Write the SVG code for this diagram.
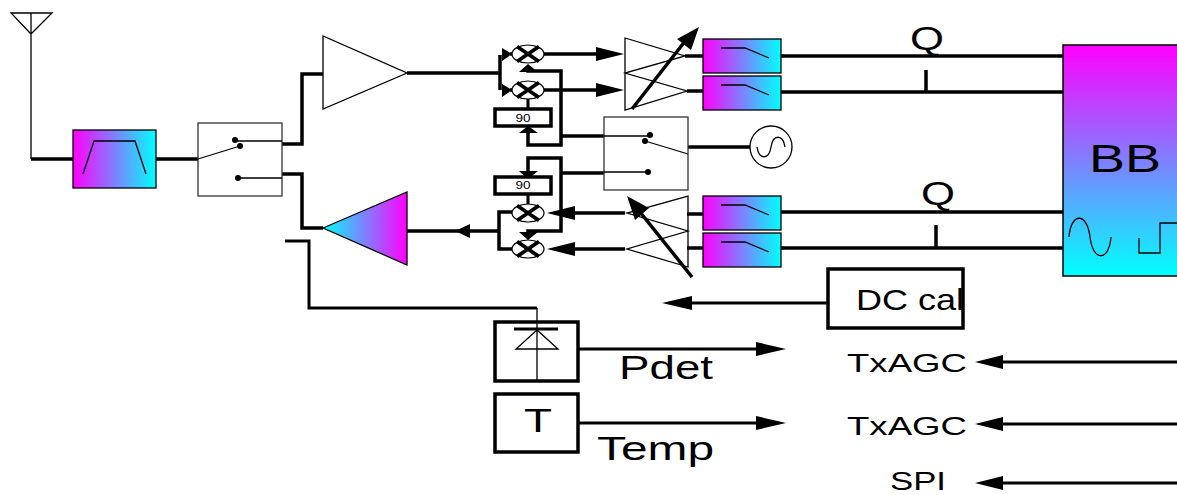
<svg xmlns="http://www.w3.org/2000/svg" xmlns:xlink="http://www.w3.org/1999/xlink" width="1177" height="495" viewBox="0 0 1177 495">
<style>
text{font-family:"Liberation Sans",Arial,sans-serif;fill:#000}
.t{fill:none;stroke:#000;stroke-width:1.3}
.b{fill:none;stroke:#000;stroke-width:3.5;stroke-linejoin:miter}
.m{fill:none;stroke:#000;stroke-width:3}
.box{fill:#fff;stroke:#000;stroke-width:3.5}
.sw{fill:#fff;stroke:#333;stroke-width:1.3}
.g{fill:url(#mc);stroke:#000;stroke-width:1.3}
.h{fill:#000;stroke:none}
.mix{fill:#fff;stroke:#000;stroke-width:1.2}
</style>
<defs>
<linearGradient id="mc"><stop offset="0" stop-color="#ff00ff"/><stop offset="1" stop-color="#00ffff"/></linearGradient>
<linearGradient id="cm"><stop offset="0" stop-color="#00ffff"/><stop offset="1" stop-color="#ff00ff"/></linearGradient>
<linearGradient id="v" x1="0" y1="0" x2="0" y2="1"><stop offset="0" stop-color="#ff00ff"/><stop offset="1" stop-color="#00ffff"/></linearGradient>
<g id="mixer"><ellipse class="mix" rx="16" ry="9"/><path d="M-11-7.500 11 7.500M-11 7.500 11-7.500" stroke="#000" stroke-width="3.8" fill="none"/></g>
<g id="lpf"><rect class="g" width="78" height="34"/><path class="t" d="M18 9H42L66 19" stroke-width="1.5"/></g>
</defs>

<g id="connectors">
<path class="b" d="M31 159H73M156 159H198M282 144H302V74H323M282 174H302V228H323M407 73H499M500 55V90M561 136H604M561 173H604M688 147H750"/>
<path class="b" d="M528 70V71H561V145H528V132M528 172V158H561V231H528V235"/>
<path class="b" d="M510 54H600M510 90H600M685 56H703M687 91H703M781 56H1063M781 92H1063M781 212H1063M781 248H1063M625 213H570M625 249H570M687 214H703M687 248H703M926 70V92M936 225V247"/>
<path class="b" d="M512 212H499V249H512M499 231H407"/>
<path class="m" d="M528 195V204M528 99V108M285 241H309V308H537"/>
<path class="m" d="M579 349H760M579 423H760M828 303H690M1177 362H1000M1177 424H1000M1177 483H1000"/>
<path class="h" d="M502 48V61L512 54ZM502 84V97L512 90ZM519 72 528 64 538 72ZM519 133 528 126 538 133ZM519 171 528 179 538 171ZM519 232 528 240 538 232ZM596 47 624 54 596 61ZM596 83 624 90 596 97ZM575 206 547 213 575 220ZM575 242 547 249 575 256ZM470 224 455 231 470 238ZM756 342 786 349 756 356ZM756 416 786 423 756 430ZM692 296 662 303 692 310ZM1003 355 975 362 1003 369ZM1003 417 975 424 1003 431ZM1003 476 975 483 1003 490Z"/>
</g>

<g id="antenna"><path class="t" d="M11 13H52L31 34ZM31 13V159"/></g>
<g id="bandpass-filter"><rect class="g" x="73" y="130" width="83" height="58"/><path class="t" d="M83 174 94 141H135L146 174" stroke-width="1.5"/></g>
<g id="antenna-switch"><rect class="sw" x="198" y="123" width="84" height="73"/><path class="t" d="M198 159 240 146M235 141H282M238 178H282"/><circle cx="235" cy="140" r="3"/><circle cx="240" cy="146" r="3"/><circle cx="238" cy="178" r="3"/></g>
<g id="lna"><path class="t" d="M323 36V109L407 73Z"/></g>
<g id="pa"><path fill="url(#cm)" stroke="#000" stroke-width="1.3" d="M323 228 407 192V265Z"/></g>
<g id="mixer-1"><use xlink:href="#mixer" href="#mixer" x="528" y="54"/></g>
<g id="mixer-2"><use xlink:href="#mixer" href="#mixer" x="528" y="90"/></g>
<g id="mixer-3"><use xlink:href="#mixer" href="#mixer" x="528" y="213"/></g>
<g id="mixer-4"><use xlink:href="#mixer" href="#mixer" x="528" y="249"/></g>
<g id="phase-rx"><rect class="box" x="495" y="109" width="56" height="17"/><text x="523" y="122" font-size="10" text-anchor="middle" textLength="15" lengthAdjust="spacingAndGlyphs">90</text></g>
<g id="phase-tx"><rect class="box" x="495" y="177" width="56" height="17"/><text x="523" y="189" font-size="10" text-anchor="middle" textLength="15" lengthAdjust="spacingAndGlyphs">90</text></g>
<g id="lo-switch"><rect class="sw" x="604" y="117" width="84" height="73"/><path class="t" d="M604 136H650M645 141 688 154M604 172H648"/><circle cx="650" cy="135" r="3"/><circle cx="645" cy="141" r="3"/><circle cx="648" cy="172" r="3"/></g>
<g id="oscillator"><circle class="t" cx="771" cy="147" r="21" fill="#fff"/><path class="t" d="M757 147C759 160 769 160 771 147S783 134 785 147"/></g>
<g id="vga-rx"><path class="t" d="M625 38V110L687 91 625 73 685 56Z"/><path d="M632 109 686 40" stroke="#000" stroke-width="3.5"/><path class="h" d="M699 27 677 39 691 50Z"/></g>
<g id="vga-tx"><path class="t" d="M688 196V267L627 249 688 231 627 213Z"/><path d="M692 277 640 212" stroke="#000" stroke-width="3.5"/><path class="h" d="M627 196 649 208 635 220Z"/></g>
<g id="lpf-1"><use xlink:href="#lpf" href="#lpf" x="703" y="39"/></g>
<g id="lpf-2"><use xlink:href="#lpf" href="#lpf" x="703" y="76"/></g>
<g id="lpf-3"><use xlink:href="#lpf" href="#lpf" x="703" y="196"/></g>
<g id="lpf-4"><use xlink:href="#lpf" href="#lpf" x="703" y="233"/></g>
<g id="bb"><rect x="1063" y="45" width="120" height="231" fill="url(#v)" stroke="#000" stroke-width="1.5"/><text x="1089" y="172" font-size="39" textLength="72" lengthAdjust="spacingAndGlyphs">BB</text><path class="t" d="M1069 237C1071 212 1087 212 1090 237S1109 262 1111 237M1139 238V253H1160V223H1177"/></g>
<g id="detector"><rect class="box" x="495" y="322" width="83" height="59"/><path class="t" d="M537 308V381M537 330 516 349H558Z"/><path d="M514 329H558" stroke="#000" stroke-width="3"/></g>
<g id="temp"><rect class="box" x="495" y="394" width="83" height="58"/><text x="524" y="432" font-size="33" textLength="28" lengthAdjust="spacingAndGlyphs">T</text></g>
<g id="dc-cal"><rect class="box" x="828" y="269" width="135" height="59"/><text x="856" y="310" font-size="29" textLength="108" lengthAdjust="spacingAndGlyphs">DC cal</text></g>
<g id="labels">
<text x="910" y="50" font-size="34" textLength="34" lengthAdjust="spacingAndGlyphs">Q</text>
<text x="921" y="205" font-size="34" textLength="34" lengthAdjust="spacingAndGlyphs">Q</text>
<text x="619" y="379" font-size="34" textLength="94" lengthAdjust="spacingAndGlyphs">Pdet</text>
<text x="597" y="460" font-size="34" textLength="117" lengthAdjust="spacingAndGlyphs">Temp</text>
<text x="847" y="372" font-size="26" textLength="120" lengthAdjust="spacingAndGlyphs">TxAGC</text>
<text x="847" y="435" font-size="26" textLength="120" lengthAdjust="spacingAndGlyphs">TxAGC</text>
<text x="890" y="490" font-size="26" textLength="56" lengthAdjust="spacingAndGlyphs">SPI</text>
</g>
</svg>
